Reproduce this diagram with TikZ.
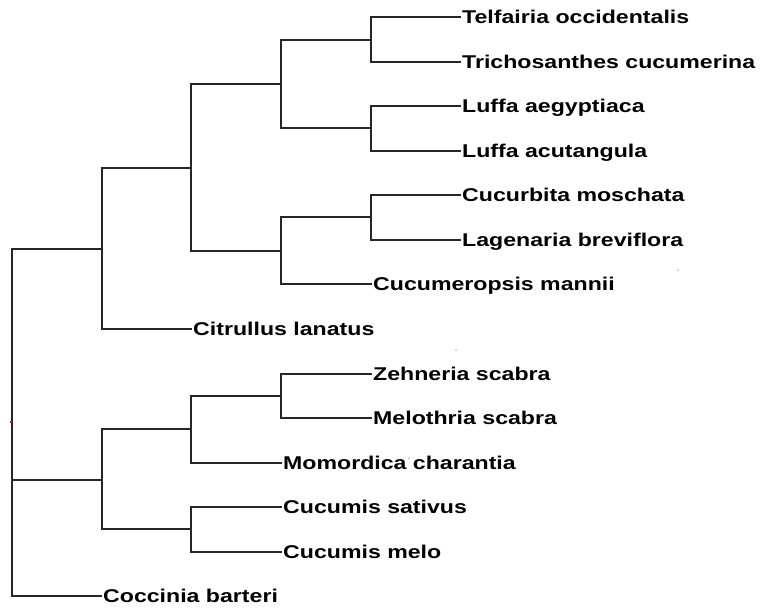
\documentclass[tikz,border=0pt]{standalone}
\usepackage{fontspec}
\newfontfamily\labfont{Liberation Sans}[FakeStretch=1.25]
\begin{document}
\begin{tikzpicture}[x=1pt,y=-1pt,
  branch/.style={draw=black!85,line width=1.6pt,line cap=rect},
  leaf/.style={anchor=base west,inner sep=0pt,xshift=2pt,yshift=-6.7pt,
    font=\labfont\bfseries\fontsize{18.5}{20}\selectfont},
  speck/.style={fill=black!45,inner sep=0pt,minimum size=1.5pt,circle}]
\useasboundingbox (0,0) rectangle (761,608);
% internal nodes
\coordinate (R) at (12,480);
\coordinate (A) at (102,249);
\coordinate (A1) at (191,168);
\coordinate (A11) at (281,84);
\coordinate (A111) at (371,40);
\coordinate (A112) at (371,128);
\coordinate (A12) at (281,251);
\coordinate (A121) at (371,217);
\coordinate (B) at (102,480);
\coordinate (B1) at (191,429);
\coordinate (B11) at (281,396);
\coordinate (B2) at (191,529);
% leaf tips
\coordinate (tTel) at (460,17);
\coordinate (tTri) at (460,62);
\coordinate (tLae) at (460,106);
\coordinate (tLac) at (460,151);
\coordinate (tCmo) at (460,195);
\coordinate (tLag) at (460,240);
\coordinate (tCum) at (371,284);
\coordinate (tCit) at (191,329);
\coordinate (tZeh) at (371,374);
\coordinate (tMel) at (371,418);
\coordinate (tMom) at (281,463);
\coordinate (tCsa) at (281,507);
\coordinate (tCme) at (281,552);
\coordinate (tCoc) at (101,596);
% labels
\node[leaf] (Tel) at (tTel) {Telfairia occidentalis};
\node[leaf] (Tri) at (tTri) {Trichosanthes cucumerina};
\node[leaf] (Lae) at (tLae) {Luffa aegyptiaca};
\node[leaf] (Lac) at (tLac) {Luffa acutangula};
\node[leaf] (Cmo) at (tCmo) {Cucurbita moschata};
\node[leaf] (Lag) at (tLag) {Lagenaria breviflora};
\node[leaf] (Cum) at (tCum) {Cucumeropsis mannii};
\node[leaf] (Cit) at (tCit) {Citrullus lanatus};
\node[leaf] (Zeh) at (tZeh) {Zehneria scabra};
\node[leaf] (Mel) at (tMel) {Melothria scabra};
\node[leaf] (Mom) at (tMom) {Momordica charantia};
\node[leaf] (Csa) at (tCsa) {Cucumis sativus};
\node[leaf] (Cme) at (tCme) {Cucumis melo};
\node[leaf] (Coc) at (tCoc) {Coccinia barteri};
% branches
\draw[branch] (R) |- (A);
\draw[branch] (R) |- (B);
\draw[branch] (R) |- (tCoc);
\draw[branch] (A) |- (A1);
\draw[branch] (A) |- (tCit);
\draw[branch] (A1) |- (A11);
\draw[branch] (A1) |- (A12);
\draw[branch] (A11) |- (A111);
\draw[branch] (A11) |- (A112);
\draw[branch] (A111) |- (tTel);
\draw[branch] (A111) |- (tTri);
\draw[branch] (A112) |- (tLae);
\draw[branch] (A112) |- (tLac);
\draw[branch] (A12) |- (A121);
\draw[branch] (A12) |- (tCum);
\draw[branch] (A121) |- (tCmo);
\draw[branch] (A121) |- (tLag);
\draw[branch] (B) |- (B1);
\draw[branch] (B) |- (B2);
\draw[branch] (B1) |- (B11);
\draw[branch] (B1) |- (tMom);
\draw[branch] (B11) |- (tZeh);
\draw[branch] (B11) |- (tMel);
\draw[branch] (B2) |- (tCsa);
\draw[branch] (B2) |- (tCme);
% specks
\node[speck] (s1) at (678,270) {};
\node[speck] (s2) at (456,350) {};
\node[speck] (s4) at (409,458) {};
\node[fill=red,inner sep=0pt,minimum width=2pt,minimum height=1.2pt] (s3) at (11,422) {};
\end{tikzpicture}
\end{document}
